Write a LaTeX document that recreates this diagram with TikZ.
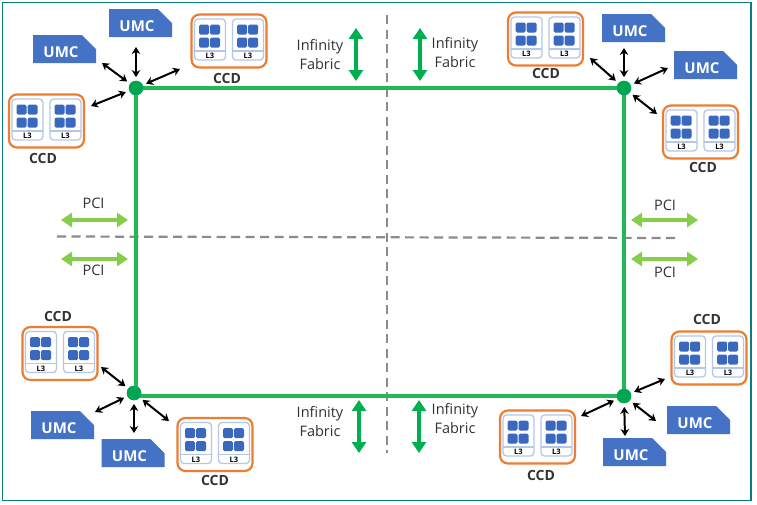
\documentclass[tikz,border=0pt]{standalone}
\usepackage{fontspec}
\setmainfont{Open Sans}
\usetikzlibrary{arrows.meta}
\definecolor{frameteal}{HTML}{0A7C86}
\definecolor{orangeb}{HTML}{ED7D31}
\definecolor{cardb}{HTML}{B4C7E7}
\definecolor{blueb}{HTML}{4472C4}
\definecolor{squareb}{HTML}{3A68BE}
\definecolor{ringg}{HTML}{22B85A}
\definecolor{dotg}{HTML}{00A651}
\definecolor{ifg}{HTML}{00B050}
\definecolor{pcig}{HTML}{84CE4A}
\definecolor{dashg}{HTML}{8C8A8C}
\definecolor{txt}{HTML}{333333}
\tikzset{
  ccdbox/.style={draw=orangeb,line width=2.2pt,rounded corners=8pt,minimum width=75pt,minimum height=53pt,inner sep=0pt,fill=white},
  card/.style={draw=cardb,line width=1.3pt,rounded corners=3.5pt,fill=white},
  cardline/.style={draw=cardb,line width=1.2pt},
  sq/.style={fill=squareb,rounded corners=1.5pt},
  lthree/.style={font=\fontsize{7.5}{8}\selectfont\bfseries,text=black,inner sep=0pt},
  ccdlabel/.style={font=\fontsize{14}{15}\selectfont\bfseries,text=txt,inner sep=0pt},
  lbl/.style={font=\fontsize{14.5}{15}\selectfont,text=txt,inner sep=0pt},
  umctext/.style={font=\fontsize{15}{16}\selectfont\bfseries,text=white,inner sep=0pt},
  umcshape/.style={fill=blueb},
  ring/.style={draw=ringg,line width=3.1pt},
  dotn/.style={circle,fill=dotg,minimum size=14.5pt,inner sep=0pt},
  link/.style={draw=black,line width=2pt,{Stealth[length=7pt,width=8.5pt]}-{Stealth[length=7pt,width=8.5pt]}},
  ifarrow/.style={draw=ifg,line width=4.4pt,{Triangle[length=11pt,width=14pt]}-{Triangle[length=11pt,width=14pt]}},
  pciarrow/.style={draw=pcig,line width=3.8pt,{Triangle[length=11pt,width=14pt]}-{Triangle[length=11pt,width=14pt]}},
  divider/.style={draw=dashg,line width=2.2pt,dash pattern=on 9pt off 5.5pt},
}
% name, centre x, centre y, label x, label y
\newcommand{\ccdunit}[5]{%
  \node[ccdbox] (#1) at (#2,#3) {};
  \begin{scope}[shift={(#2,#3)}]
    \foreach \dx in {-34.5,3.5}{
      \draw[card] (\dx,-22) rectangle (\dx+31,19);
      \draw[cardline] (\dx,10) -- (\dx+31,10);
      \foreach \ox in {7,18}\foreach \oy in {-16,-3}
        \fill[sq] (\dx+\ox-2.5,\oy-0.5) rectangle (\dx+\ox+7.5,\oy+9.5);
    }
    \node[lthree] (#1a) at (-19,15) {L3};
    \node[lthree] (#1b) at (19,15) {L3};
  \end{scope}
  \node[ccdlabel] (#1t) at (#4,#5) {CCD};
}
% name, left x, top y
\newcommand{\umcunit}[3]{%
  \begin{scope}[shift={(#2,#3)}]
    \fill[umcshape] (0,0) -- (49,0) -- (63,14) -- (63,28) -- (0,28) -- cycle;
  \end{scope}
  \node[umctext] (#1) at (#2+28,#3+17.5) {UMC};
}
\begin{document}
\begin{tikzpicture}[x=1pt,y=-1pt]
\useasboundingbox (0,0) rectangle (757,504);
\fill[white] (0,0) rectangle (757,504);
\draw[frameteal,line width=1.5pt] (2.5,2.5) rectangle (751,500.5);

% dividers
\coordinate (dvT) at (387,15);
\coordinate (dvB) at (387,453);
\coordinate (dhL) at (57,236.5);
\coordinate (dhR) at (677,238);
\draw[divider] (dvT) -- (dvB);
\draw[divider] (dhL) -- (dhR);

% ring
\node[dotn] (tl) at (136,88) {};
\node[dotn] (tr) at (624,88) {};
\node[dotn] (bl) at (134,393) {};
\node[dotn] (br) at (624,396) {};
\draw[ring] (tl.center) -- (tr.center) -- (br.center) -- (136,396) -- cycle;
\node[dotn] at (tl) {};
\node[dotn] at (tr) {};
\node[dotn] at (bl) {};
\node[dotn] at (br) {};

% units
\ccdunit{c1}{46.5}{121}{43}{158}
\ccdunit{c2}{229}{41}{227}{78}
\ccdunit{c3}{60}{353.5}{58}{316}
\ccdunit{c4}{215}{444.5}{215}{480}
\ccdunit{c5}{545.5}{39}{546}{73.5}
\ccdunit{c6}{700.5}{132}{703}{167}
\ccdunit{c7}{709}{358}{707}{319}
\ccdunit{c8}{537.5}{437}{541}{475}
\umcunit{u1}{109}{9}
\umcunit{u2}{33}{35}
\umcunit{u3}{31}{411}
\umcunit{u4}{101.5}{439}
\umcunit{u5}{602}{14}
\umcunit{u6}{674}{51}
\umcunit{u7}{667}{406}
\umcunit{u8}{603}{438}

% free ends of the short links
\coordinate (e1) at (136,47);
\coordinate (e2) at (102,63);
\coordinate (e3) at (180,69);
\coordinate (e4) at (91,106);
\coordinate (e5) at (101,367);
\coordinate (e6) at (134,433);
\coordinate (e7) at (95,412);
\coordinate (e8) at (169,421);
\coordinate (e9) at (590,58);
\coordinate (e10) at (624,48);
\coordinate (e11) at (668,68);
\coordinate (e12) at (657,114);
\coordinate (e13) at (665,379);
\coordinate (e14) at (581,416);
\coordinate (e15) at (625,436);
\coordinate (e16) at (656,421);
\foreach \n/\e in {tl/e1,tl/e2,tl/e3,tl/e4,bl/e5,bl/e6,bl/e7,bl/e8,tr/e9,tr/e10,tr/e11,tr/e12,br/e13,br/e14,br/e15,br/e16}
  \draw[link,shorten <=3.5pt] (\n) -- (\e);

% Infinity Fabric
\coordinate (f1a) at (356,28); \coordinate (f1b) at (356,81);
\coordinate (f2a) at (420,28); \coordinate (f2b) at (420,81);
\coordinate (f3a) at (359,400); \coordinate (f3b) at (359,453);
\coordinate (f4a) at (419,400); \coordinate (f4b) at (419,453);
\foreach \a/\b in {f1a/f1b,f2a/f2b,f3a/f3b,f4a/f4b}
  \draw[ifarrow] (\a) -- (\b);
\node[lbl,align=center] (t1) at (320,55) {Infinity\\[4pt]Fabric};
\node[lbl,align=center] (t2) at (455,53) {Infinity\\[4pt]Fabric};
\node[lbl,align=center] (t3) at (320,421.5) {Infinity\\[4pt]Fabric};
\node[lbl,align=center] (t4) at (455,419) {Infinity\\[4pt]Fabric};

% PCI
\coordinate (p1a) at (61,220); \coordinate (p1b) at (128,220);
\coordinate (p2a) at (61,259); \coordinate (p2b) at (128,259);
\coordinate (p3a) at (631,220); \coordinate (p3b) at (698,220);
\coordinate (p4a) at (631,259); \coordinate (p4b) at (698,259);
\foreach \a/\b in {p1a/p1b,p2a/p2b,p3a/p3b,p4a/p4b}
  \draw[pciarrow] (\a) -- (\b);
\node[lbl] (q1) at (93.5,203.5) {PCI};
\node[lbl] (q2) at (93.5,270.5) {PCI};
\node[lbl] (q3) at (665,205) {PCI};
\node[lbl] (q4) at (665,272) {PCI};
\end{tikzpicture}
\end{document}
